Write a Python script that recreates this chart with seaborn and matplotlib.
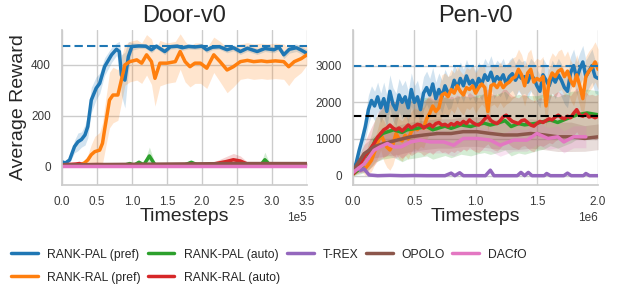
import matplotlib
matplotlib.use("Agg")
import matplotlib.pyplot as plt
from matplotlib.ticker import MultipleLocator
import seaborn as sns
import numpy as np

# ---------------------------------------------------------------------------
# Door-v0 (x en unidades de 1e5 pasos)
# ---------------------------------------------------------------------------
door_pal_pref_x = [0, 0.05, 0.11, 0.18, 0.23, 0.28, 0.33, 0.37, 0.42, 0.49,
                   0.54, 0.61, 0.71, 0.78, 0.82, 0.85, 0.9, 0.95, 1.0, 1.1,
                   1.2, 1.28, 1.35, 1.47, 1.55, 1.65, 1.72, 1.81, 1.9, 2.0,
                   2.07, 2.15, 2.25, 2.36, 2.45, 2.55, 2.65, 2.79, 2.9, 3.03,
                   3.1, 3.17, 3.25, 3.35, 3.41, 3.5]
door_pal_pref_y = [17, 12, 24, 77, 96, 105, 123, 156, 261, 308,
                   327, 393, 440, 462, 453, 360, 340, 433, 473, 475,
                   474, 460, 474, 453, 472, 474, 468, 473, 471, 474,
                   460, 470, 472, 460, 468, 453, 466, 453, 465, 460,
                   470, 440, 462, 468, 460, 446]
door_pal_pref_sd = [5, 5, 10, 25, 35, 30, 40, 45, 50, 45,
                    40, 35, 30, 25, 40, 80, 110, 60, 15, 10,
                    10, 12, 10, 12, 10, 10, 10, 10, 10, 10,
                    12, 10, 10, 12, 12, 12, 12, 12, 12, 12,
                    12, 15, 15, 15, 15, 15]

door_ral_pref_x = [0, 0.1, 0.25, 0.32, 0.37, 0.42, 0.47, 0.54, 0.58, 0.61,
                   0.65, 0.68, 0.73, 0.8, 0.85, 0.9, 0.97, 1.07, 1.14, 1.21,
                   1.28, 1.33, 1.4, 1.5, 1.62, 1.69, 1.76, 1.83, 1.9, 1.98,
                   2.07, 2.17, 2.26, 2.36, 2.45, 2.55, 2.65, 2.74, 2.85, 2.93,
                   3.05, 3.17, 3.24, 3.32, 3.42, 3.5]
door_ral_pref_y = [4, 3, 4, 12, 24, 45, 57, 63, 90, 143,
                   210, 261, 281, 281, 340, 400, 413, 420, 407, 440,
                   413, 347, 407, 407, 413, 453, 413, 393, 407, 407,
                   387, 440, 413, 380, 393, 413, 418, 413, 416, 413,
                   416, 413, 393, 413, 425, 440]
door_ral_pref_sd = [3, 3, 5, 10, 20, 40, 60, 70, 80, 90,
                    100, 110, 110, 100, 90, 80, 80, 80, 80, 80,
                    90, 110, 90, 80, 80, 70, 80, 80, 80, 80,
                    80, 70, 80, 90, 80, 70, 70, 70, 70, 70,
                    70, 70, 75, 65, 55, 40]

door_pal_auto_x = [0, 0.3, 0.6, 0.9, 0.97, 1.03, 1.1, 1.17, 1.25, 1.33,
                   1.45, 1.6, 1.75, 1.85, 1.95, 2.1, 2.3, 2.5, 2.7, 2.85,
                   2.9, 2.97, 3.1, 3.3, 3.5]
door_pal_auto_y = [3, 4, 2, 4, 10, 3, 15, 5, 40, 5,
                   3, 2, 4, 15, 3, 2, 3, 5, 3, 8,
                   25, 5, 5, 6, 6]
door_pal_auto_sd = [3, 3, 3, 4, 8, 4, 10, 6, 35, 6,
                    4, 3, 4, 8, 3, 3, 3, 4, 3, 10,
                    30, 5, 4, 4, 4]

door_ral_auto_x = [0, 0.2, 0.25, 0.3, 0.5, 0.8, 1.2, 1.6, 2.0, 2.2,
                   2.35, 2.45, 2.55, 2.65, 2.8, 3.0, 3.2, 3.5]
door_ral_auto_y = [5, 8, 10, 5, 6, 4, 3, 2, 3, 10,
                   18, 25, 20, 8, 6, 7, 8, 8]
door_ral_auto_sd = [5, 8, 10, 5, 5, 4, 3, 3, 3, 10,
                    20, 25, 20, 8, 5, 5, 5, 5]

door_base_x = [0, 0.5, 1.0, 1.5, 2.0, 2.5, 3.0, 3.5]
door_trex_y = [1, 0, 1, 0, 1, 0, 1, 0]
door_opolo_y = [5, 6, 7, 8, 9, 10, 10, 10]
door_dacfo_y = [0, 0, 0, 0, 0, 0, 0, 0]
door_base_sd = [2, 2, 3, 3, 4, 4, 4, 4]

# ---------------------------------------------------------------------------
# Pen-v0 (x en unidades de 1e6 pasos)
# ---------------------------------------------------------------------------
pen_grid_x = np.linspace(0, 2.0, 81)   # evaluaciones cada 25k pasos

pen_pal_pref_y = [100, 350, 700, 1000, 1340, 1800, 2050, 1900, 2150, 1850,
                  2100, 1750, 2300, 1950, 1800, 2200, 2000, 2150, 1850, 2350,
                  2000, 2150, 1800, 2250, 2400, 2200, 2500, 2100, 2350, 2150,
                  2450, 2250, 2300, 2600, 2400, 2650, 2450, 2720, 2500, 2600,
                  2400, 2650, 2500, 2750, 2600, 2820, 2550, 2700, 2600, 2750,
                  2500, 2700, 2780, 2600, 2750, 2650, 2700, 2550, 2750, 2650,
                  2450, 2300, 2750, 2600, 2450, 2700, 2550, 2750, 2600, 2400,
                  2300, 2800, 3000, 2650, 2900, 3100, 2700, 2850, 3000, 2700,
                  2650]
pen_pal_pref_sd = [50, 100, 200, 300, 350, 400, 400, 400, 400, 400,
                   450, 450, 450, 450, 450, 450, 450, 450, 450, 450,
                   450, 450, 450, 450, 450, 450, 450, 450, 450, 450,
                   450, 450, 450, 450, 450, 450, 450, 450, 450, 450,
                   450, 450, 450, 450, 450, 450, 450, 450, 450, 450,
                   450, 450, 450, 450, 450, 450, 450, 450, 450, 450,
                   450, 450, 450, 450, 450, 450, 450, 450, 450, 450,
                   450, 450, 450, 450, 450, 450, 450, 450, 450, 450,
                   450]

pen_ral_pref_y = [50, 120, 220, 250, 200, 300, 420, 650, 880, 1150,
                  950, 780, 700, 850, 1150, 1000, 950, 1100, 1000, 1200,
                  1300, 1250, 1350, 1300, 1550, 1700, 1900, 1750, 1850, 2200,
                  2250, 2150, 2350, 2250, 2450, 2300, 2200, 2400, 2350, 2450,
                  2250, 2400, 2500, 2400, 1750, 2450, 2500, 2400, 2550, 2400,
                  2500, 2550, 2650, 2700, 2900, 2750, 2450, 2800, 2900, 2550,
                  2650, 2600, 2700, 1900, 2600, 2800, 2700, 2850, 2900, 2700,
                  2850, 2600, 2450, 2750, 2450, 2100, 2700, 2850, 2950, 3100,
                  2900]
pen_ral_pref_sd = [50, 80, 120, 150, 200, 250, 300, 350, 400, 450,
                   550, 550, 550, 550, 550, 550, 550, 550, 550, 550,
                   550, 550, 550, 550, 550, 550, 550, 550, 550, 550,
                   550, 550, 550, 550, 550, 550, 550, 550, 550, 550,
                   550, 550, 550, 550, 550, 550, 550, 550, 550, 550,
                   550, 550, 550, 550, 550, 550, 550, 550, 550, 550,
                   550, 550, 550, 550, 550, 550, 550, 550, 550, 550,
                   550, 550, 550, 550, 550, 550, 550, 550, 550, 550,
                   550]

pen_ral_auto_y = [50, 150, 280, 420, 560, 650, 780, 900, 1050, 1150,
                  1250, 1300, 1380, 1300, 1250, 1300, 1220, 1300, 1380, 1300,
                  1350, 1400, 1380, 1300, 1350, 1400, 1330, 1420, 1450, 1380,
                  1400, 1350, 1420, 1380, 1450, 1400, 1480, 1420, 1520, 1450,
                  1400, 1380, 1450, 1550, 1620, 1500, 1450, 1420, 1500, 1600,
                  1650, 1550, 1480, 1450, 1420, 1500, 1520, 1450, 1380, 1350,
                  1420, 1480, 1450, 1500, 1550, 1520, 1600, 1650, 1580, 1550,
                  1620, 1580, 1700, 1800, 1650, 1620, 1680, 1600, 1620, 1580,
                  1620]
pen_ral_auto_sd = [50, 100, 200, 300, 400, 500, 550, 600, 650, 700,
                   750, 750, 750, 750, 750, 750, 750, 750, 750, 750,
                   750, 750, 750, 750, 750, 750, 750, 750, 750, 750,
                   750, 750, 750, 750, 750, 750, 750, 750, 750, 750,
                   750, 750, 750, 750, 750, 750, 750, 750, 750, 750,
                   700, 700, 700, 700, 700, 700, 700, 700, 700, 700,
                   650, 650, 650, 650, 650, 650, 650, 650, 650, 650,
                   600, 600, 600, 600, 600, 600, 600, 600, 600, 600,
                   600]

pen_pal_auto_x = [0, 0.06, 0.11, 0.15, 0.18, 0.24, 0.33, 0.4, 0.44, 0.52,
                  0.6, 0.65, 0.69, 0.75, 0.8, 0.88, 0.96, 1.02, 1.07, 1.12,
                  1.18, 1.24, 1.29, 1.35, 1.4, 1.5, 1.56, 1.61, 1.67, 1.72,
                  1.78, 1.83, 1.91, 2.0]
pen_pal_auto_y = [50, 200, 415, 700, 970, 1150, 1250, 1180, 1250, 1290,
                  1340, 1250, 1290, 1350, 1290, 1385, 1340, 1400, 1430, 1380,
                  1430, 1500, 1340, 1420, 1385, 1430, 1480, 1520, 1450, 1520,
                  1600, 1660, 1710, 1660]
pen_pal_auto_sd = [50, 150, 300, 450, 600, 700, 750, 800, 800, 800,
                   800, 800, 800, 800, 800, 800, 800, 800, 800, 800,
                   800, 800, 800, 800, 800, 750, 750, 700, 700, 700,
                   700, 650, 650, 650]

pen_trex_x = [0, 0.03, 0.06, 0.09, 0.13, 0.2, 0.3, 0.4, 0.5, 0.6,
              0.75, 0.8, 0.83, 0.87, 0.9, 1.08, 1.12, 1.15, 1.34, 1.37,
              1.4, 1.43, 1.46, 1.56, 1.58, 1.61, 1.72, 1.75, 1.78, 1.88,
              1.9, 1.93, 2.0]
pen_trex_y = [100, 230, 150, 185, 20, 0, 10, 0, 5, 0,
              0, 70, 0, 80, 0, 0, 150, 0, 0, 90,
              0, 90, 0, 0, 60, 0, 0, 70, 0, 0,
              60, 0, 0]
pen_trex_sd = [60, 100, 80, 80, 30, 10, 10, 10, 10, 10,
               10, 40, 10, 40, 10, 10, 60, 10, 10, 40,
               10, 40, 10, 10, 30, 10, 10, 30, 10, 10,
               30, 10, 10]

pen_opolo_x = [0, 0.09, 0.17, 0.25, 0.36, 0.47, 0.58, 0.69, 0.8, 0.9,
               1.01, 1.12, 1.23, 1.34, 1.45, 1.56, 1.67, 1.78, 1.89, 2.0]
pen_opolo_y = [140, 600, 785, 877, 970, 1060, 1110, 1150, 1150, 1200,
               1200, 1150, 1110, 1110, 1150, 1110, 1060, 1060, 1015, 1060]
pen_opolo_sd = [80, 250, 300, 350, 400, 400, 400, 400, 400, 400,
                400, 400, 400, 400, 400, 400, 400, 400, 350, 350]

pen_dacfo_x = [0, 0.09, 0.17, 0.22, 0.28, 0.33, 0.39, 0.47, 0.55, 0.63,
               0.74, 0.82, 0.9, 1.01, 1.12, 1.2, 1.31, 1.42, 1.5, 1.59,
               1.67, 1.72, 1.8, 1.9]
pen_dacfo_y = [90, 320, 690, 785, 877, 785, 785, 920, 970, 920,
               920, 830, 1015, 1015, 970, 830, 970, 970, 1150, 1015,
               1060, 920, 1060, 1060]
pen_dacfo_sd = [60, 200, 300, 300, 300, 300, 300, 300, 300, 300,
                300, 300, 300, 300, 300, 300, 300, 300, 300, 300,
                300, 300, 300, 300]

etiquetas = ["RANK-PAL (pref)", "RANK-RAL (pref)", "RANK-PAL (auto)",
             "RANK-RAL (auto)", "T-REX", "OPOLO", "DACfO"]
colores = ["#1f77b4", "#ff7f0e", "#2ca02c", "#d62728", "#9467bd", "#8c564b", "#e377c2"]

door_series = [
    (door_pal_pref_x, door_pal_pref_y, door_pal_pref_sd),
    (door_ral_pref_x, door_ral_pref_y, door_ral_pref_sd),
    (door_pal_auto_x, door_pal_auto_y, door_pal_auto_sd),
    (door_ral_auto_x, door_ral_auto_y, door_ral_auto_sd),
    (door_base_x, door_trex_y, door_base_sd),
    (door_base_x, door_opolo_y, door_base_sd),
    (door_base_x, door_dacfo_y, door_base_sd),
]
pen_series = [
    (pen_grid_x, pen_pal_pref_y, pen_pal_pref_sd),
    (pen_grid_x, pen_ral_pref_y, pen_ral_pref_sd),
    (pen_pal_auto_x, pen_pal_auto_y, pen_pal_auto_sd),
    (pen_grid_x, pen_ral_auto_y, pen_ral_auto_sd),
    (pen_trex_x, pen_trex_y, pen_trex_sd),
    (pen_opolo_x, pen_opolo_y, pen_opolo_sd),
    (pen_dacfo_x, pen_dacfo_y, pen_dacfo_sd),
]

sns.set_theme(style="whitegrid")
plt.rcParams['font.family'] = ['Liberation Sans', 'DejaVu Sans']

fig = plt.figure(figsize=(6.25, 2.86), dpi=100)
ax1 = fig.add_axes([0.099, 0.353, 0.392, 0.542])
ax2 = fig.add_axes([0.565, 0.353, 0.392, 0.542])


def dibujar(ax, series, escala, con_etiqueta):
    for (xs, ys, sd), color, lab in zip(series, colores, etiquetas):
        x = np.array(xs) * escala
        y = np.array(ys, dtype=float)
        s = np.array(sd, dtype=float)
        ax.fill_between(x, y - s, y + s, color=color, alpha=0.2, lw=0)
        sns.lineplot(x=x, y=y, ax=ax, color=color, linewidth=2.5,
                     label=lab if con_etiqueta else None, legend=False)


dibujar(ax1, door_series, 1e5, False)
dibujar(ax2, pen_series, 1e6, True)

# niveles de referencia (expertos)
ax1.axhline(475, color="#1f77b4", ls="--", lw=1.5, dashes=(4, 2))
ax2.axhline(3000, color="#1f77b4", ls="--", lw=1.5, dashes=(4, 2))
ax2.axhline(1620, color="black", ls="--", lw=1.5, dashes=(4, 2))

ax1.set_xlim(0, 3.5e5)
ax1.set_ylim(-75, 538)
ax1.set_yticks([0, 200, 400])
ax1.xaxis.set_major_locator(MultipleLocator(0.5e5))
ax2.set_xlim(0, 2.0e6)
ax2.set_ylim(-255, 3970)
ax2.set_yticks([0, 1000, 2000, 3000])
ax2.xaxis.set_major_locator(MultipleLocator(0.5e6))

for ax, titulo in [(ax1, "Door-v0"), (ax2, "Pen-v0")]:
    ax.ticklabel_format(style='sci', axis='x', scilimits=(0, 0))
    ax.set_title(titulo, fontsize=17, pad=6)
    ax.set_xlabel("Timesteps", fontsize=14, labelpad=0)
    ax.set_ylabel("")
    ax.tick_params(labelsize=8.5, pad=2, labelcolor="#3a3a3a")
    ax.xaxis.get_offset_text().set_fontsize(8.5)
    sns.despine(ax=ax)
ax1.set_ylabel("Average Reward", fontsize=14, labelpad=3)

handles, labels = ax2.get_legend_handles_labels()
fig.legend(handles, labels, loc="lower left", bbox_to_anchor=(0.0, -0.03),
           ncol=5, frameon=False, fontsize=8.75, handlelength=2.2,
           handletextpad=0.75, columnspacing=0.6, labelspacing=0.9)

fig.savefig("out.png", dpi=100)
